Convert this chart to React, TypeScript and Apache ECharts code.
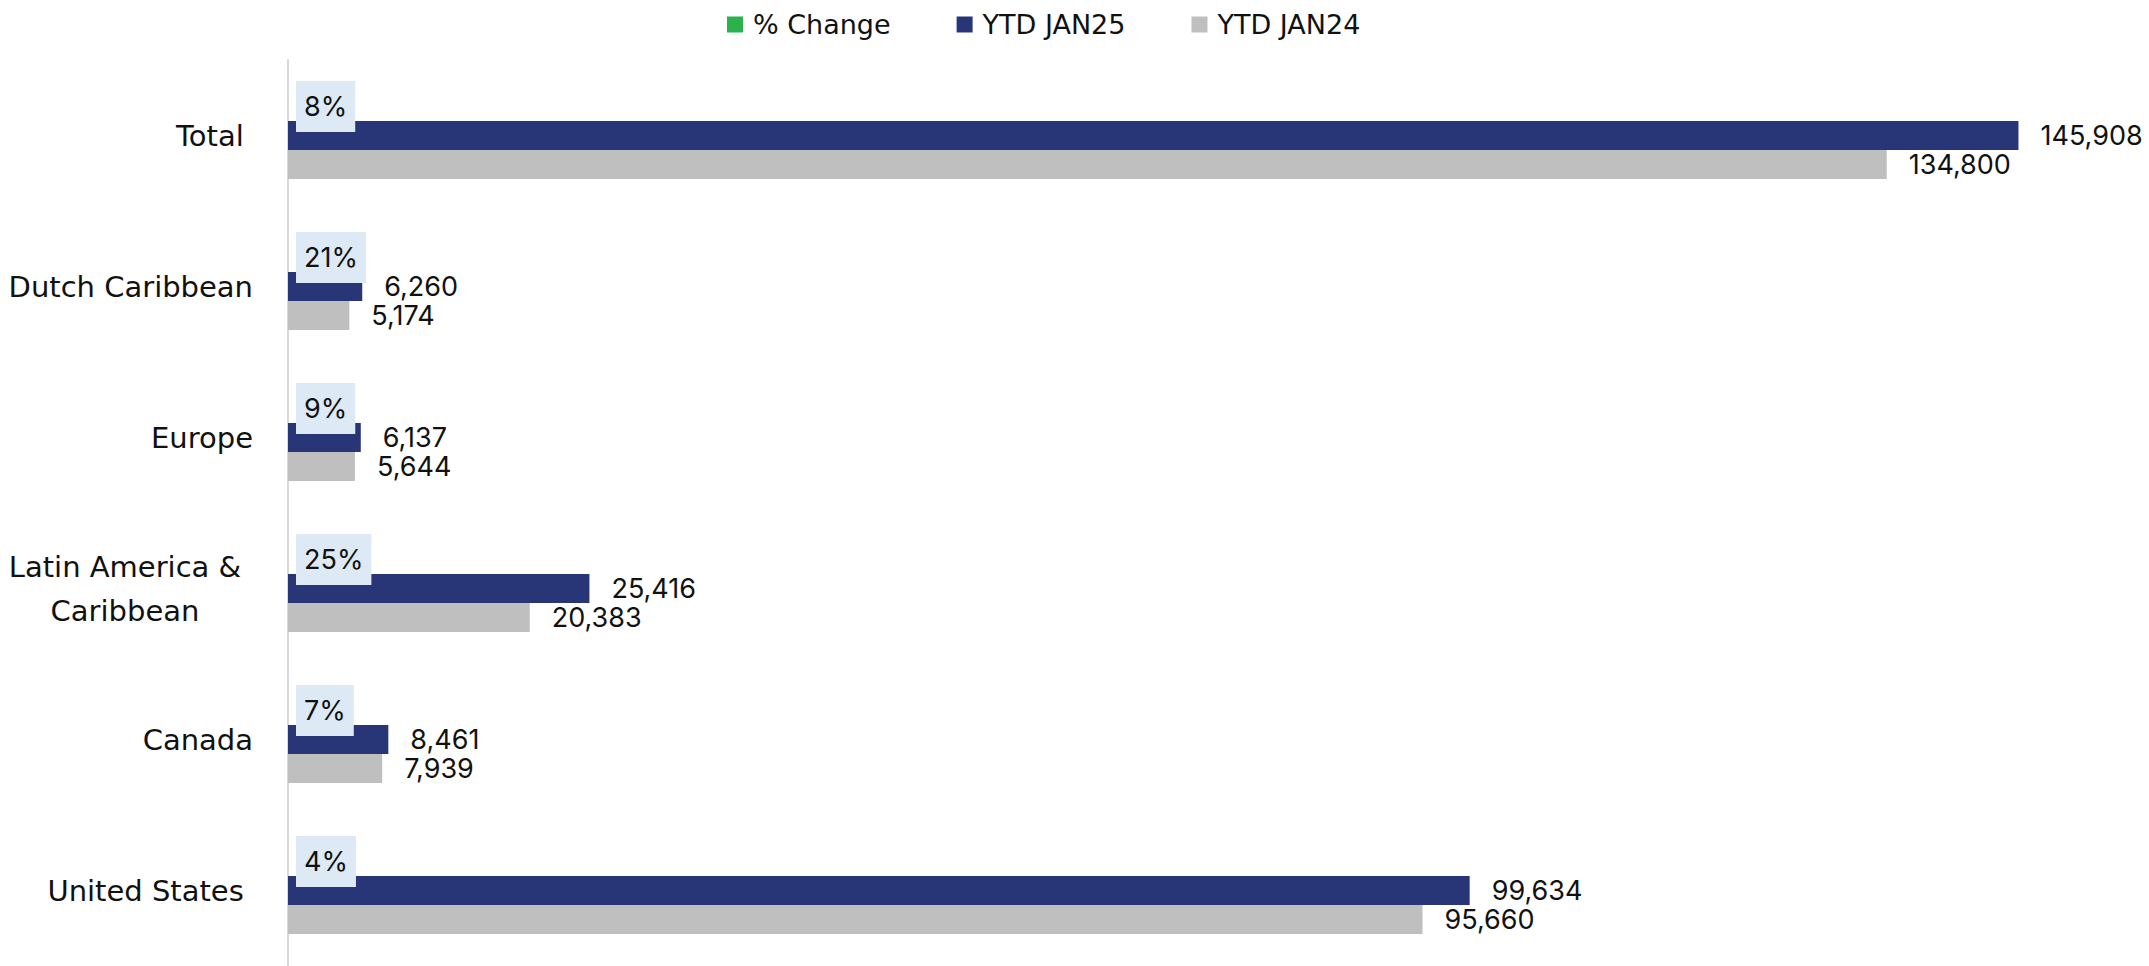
import React, { useEffect, useRef } from "react";
import * as echarts from "echarts";

const categories = ["Total", "Dutch Caribbean", "Europe", "Latin America & Caribbean", "Canada", "United States"];
const ytdJan25 = [145908, 6260, 6137, 25416, 8461, 99634];
const ytdJan24 = [134800, 5174, 5644, 20383, 7939, 95660];
const pctChange = ["8%", "21%", "9%", "25%", "7%", "4%"];
const pctBase = [0, 0, 0, 0, 0, 0];

const FONT = "Inter, 'Noto Sans', sans-serif";
const CAT_FONT = "'DejaVu Sans', sans-serif";

export default function App() {
  const ref = useRef<HTMLDivElement>(null);
  useEffect(() => {
    if (!ref.current) return;
    const chart = echarts.init(ref.current, null, { renderer: "svg" });
    const fmt = (v: number) => v.toLocaleString("en-US");
    chart.setOption({
      animation: false,
      legend: {
        top: 6,
        left: 722,
        icon: "rect",
        itemWidth: 16,
        itemHeight: 16,
        itemGap: 66,
        textStyle: { fontFamily: CAT_FONT, fontSize: 27, color: "#111", padding: [0, 0, 0, 5] },
        data: ["% Change", "YTD JAN25", "YTD JAN24"],
      },
      grid: { left: 288, right: 82, top: 60, bottom: 0, containLabel: false, outerBoundsMode: "none" },
      xAxis: {
        type: "value",
        min: 0,
        max: 150000,
        show: false,
      },
      yAxis: {
        type: "category",
        data: categories,
        inverse: true,
        axisLine: { show: true, lineStyle: { color: "#D9D9D9", width: 2 } },
        axisTick: { show: false },
        axisLabel: {
          margin: 35,
          fontFamily: CAT_FONT,
          fontSize: 29,
          color: "#111",
          lineHeight: 44,
          formatter: (v: string) =>
            v === "Latin America & Caribbean"
              ? "{c|Latin America &}\n{c|Caribbean}"
              : v === "Total" || v === "United States"
              ? v + "\u00a0"
              : v,
          rich: {
            c: { width: 256, align: "center", fontFamily: CAT_FONT, fontSize: 29, color: "#111", lineHeight: 44 },
          },
        },
      },
      series: [
        {
          name: "% Change",
          type: "bar",
          data: pctBase,
          barWidth: 29,
          barGap: "0%",
          itemStyle: { color: "#2BB24C" },
          label: {
            show: true,
            position: "right",
            distance: 8,
            formatter: (p: any) => pctChange[p.dataIndex],
            fontFamily: FONT,
            fontSize: 27,
            color: "#111",
            backgroundColor: "#DDEAF6",
            padding: [12, 8, 12, 8],
          },
        },
        {
          name: "YTD JAN25",
          type: "bar",
          data: ytdJan25,
          barWidth: 29,
          barGap: "0%",
          itemStyle: { color: "#283677" },
          label: {
            show: true,
            position: "right",
            distance: 22,
            formatter: (p: any) => fmt(p.value),
            fontFamily: FONT,
            fontSize: 27,
            color: "#111",
          },
        },
        {
          name: "YTD JAN24",
          type: "bar",
          data: ytdJan24,
          barWidth: 29,
          barGap: "0%",
          itemStyle: { color: "#BFBFBF" },
          label: {
            show: true,
            position: "right",
            distance: 22,
            formatter: (p: any) => fmt(p.value),
            fontFamily: FONT,
            fontSize: 27,
            color: "#111",
          },
        },
      ],
    });
    return () => chart.dispose();
  }, []);
  return (
    <div
      ref={ref}
      style={{ position: "fixed", left: 0, top: 0, width: 2149, height: 966, background: "#fff" }}
    />
  );
}
